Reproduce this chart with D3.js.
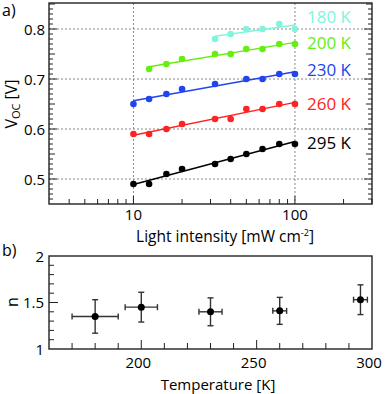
<!DOCTYPE html>
<html lang="en">
<head>
<meta charset="UTF-8"/>
<title>Voc vs light intensity</title>
<script src="https://d3js.org/d3.v7.min.js"></script>
<style>
  body { margin: 0; background: #fff; }
  text { font-family: "Open Sans", sans-serif; }
</style>
</head>
<body>
<script>
    // light intensity points (mW cm-2)
    var intensity = [10, 12.5, 16, 20, 32, 40, 50, 63, 80, 100];

    // Voc per temperature, null = no point
    var temps = ["180 K", "200 K", "230 K", "260 K", "295 K"];
    var colors = ["#80f5dc", "#66ee11", "#2244ee", "#ff2222", "#000000"];
    var voc180 = [null, null, null, null, 0.78, 0.79, 0.80, 0.80, 0.81, 0.80];
    var voc200 = [null, 0.72, 0.73, 0.74, 0.75, 0.75, 0.76, 0.76, 0.77, 0.77];
    var voc230 = [0.65, 0.66, 0.67, 0.68, 0.69, null, 0.70, 0.70, 0.71, 0.71];
    var voc260 = [0.59, 0.59, 0.60, 0.61, 0.62, 0.62, 0.64, 0.64, 0.65, 0.65];
    var voc295 = [0.49, 0.49, 0.51, 0.52, 0.53, 0.54, 0.55, 0.56, 0.57, 0.57];
    var vocAll = [voc180, voc200, voc230, voc260, voc295];

    // ideality factor vs temperature
    var tempK = [180, 200, 230, 260, 295];
    var tempErr = [10, 7, 5, 3, 3];
    var nVal = [1.35, 1.45, 1.40, 1.41, 1.53];
    var nErr = [0.18, 0.16, 0.15, 0.145, 0.16];

    var w = 385, h = 394;
    var left = 49, right = 372;

    var svg = d3.select("body").append("svg")
        .attr("width", w).attr("height", h);

    // ---------- panel a ----------
    var aTop = 3, aBot = 204;
    var xA = d3.scaleLog().domain([3, 300]).range([left, right]);
    var yA = d3.scaleLinear().domain([0.45, 0.852]).range([aBot, aTop]);

    // grid
    [10, 100].forEach(function(v) {
        svg.append("line").attr("x1", xA(v)).attr("x2", xA(v))
            .attr("y1", aTop).attr("y2", aBot)
            .attr("stroke", "#888").attr("stroke-width", 1).attr("stroke-dasharray", "2,2");
    });
    [0.5, 0.6, 0.7, 0.8].forEach(function(v) {
        svg.append("line").attr("x1", left).attr("x2", right)
            .attr("y1", yA(v)).attr("y2", yA(v))
            .attr("stroke", "#888").attr("stroke-width", 1).attr("stroke-dasharray", "2,2");
    });

    // y ticks, every 0.01 on both sides
    var yTicks = d3.range(46, 86).map(function(d) { return d / 100; });
    yTicks.forEach(function(v) {
        var k = Math.round(v * 100);
        var len = (k % 10 === 0) ? 8 : (k % 5 === 0 ? 6 : 4);
        svg.append("line").attr("x1", left).attr("x2", left + len)
            .attr("y1", yA(v)).attr("y2", yA(v)).attr("stroke", "#222");
        svg.append("line").attr("x1", right).attr("x2", right - len)
            .attr("y1", yA(v)).attr("y2", yA(v)).attr("stroke", "#222");
    });
    [0.5, 0.6, 0.7, 0.8].forEach(function(v) {
        svg.append("text").attr("x", left - 4).attr("y", yA(v) + 5.5)
            .attr("text-anchor", "end").attr("font-size", 15).text(v.toFixed(1));
    });

    // x ticks (log)
    var xTicks = [4, 5, 6, 7, 8, 9, 10, 20, 30, 40, 50, 60, 70, 80, 90, 100, 200, 300];
    xTicks.forEach(function(v) {
        var len = (v === 10 || v === 100) ? 8 : 5;
        svg.append("line").attr("x1", xA(v)).attr("x2", xA(v))
            .attr("y1", aBot).attr("y2", aBot - len).attr("stroke", "#222");
    });
    [10, 100].forEach(function(v) {
        svg.append("text").attr("x", xA(v)).attr("y", 220)
            .attr("text-anchor", "middle").attr("font-size", 15).text(v);
    });

    svg.append("rect").attr("x", left).attr("y", aTop)
        .attr("width", right - left).attr("height", aBot - aTop)
        .attr("fill", "none").attr("stroke", "#222").attr("stroke-width", 1.4);

    // fits + points
    vocAll.forEach(function(vals, s) {
        var pts = [];
        vals.forEach(function(v, i) { if (v !== null) pts.push([intensity[i], v]); });
        // least squares on log x
        var lx = pts.map(function(p) { return Math.log10(p[0]); });
        var mx = d3.mean(lx), my = d3.mean(pts, function(p) { return p[1]; });
        var sxy = d3.sum(pts, function(p, i) { return (lx[i] - mx) * (p[1] - my); });
        var sxx = d3.sum(lx, function(d) { return (d - mx) * (d - mx); });
        var b = sxy / sxx, a0 = my - b * mx;
        var x0 = pts[0][0], x1 = pts[pts.length - 1][0];
        svg.append("line")
            .attr("x1", xA(x0)).attr("y1", yA(a0 + b * Math.log10(x0)))
            .attr("x2", xA(x1)).attr("y2", yA(a0 + b * Math.log10(x1)))
            .attr("stroke", colors[s]).attr("stroke-width", 1.5);
        svg.append("g").selectAll("circle").data(pts).enter().append("circle")
            .attr("cx", function(d) { return xA(d[0]); })
            .attr("cy", function(d) { return yA(d[1]); })
            .attr("r", 3.3).attr("fill", colors[s]);
    });

    var labelY = [17, 43, 70, 104, 143];
    temps.forEach(function(t, i) {
        svg.append("text").attr("x", 307).attr("y", labelY[i] + 6)
            .attr("font-size", 17).attr("fill", colors[i]).text(t);
    });

    svg.append("text").attr("x", 2).attr("y", 16).attr("font-size", 16).text("a)");

    var yl = svg.append("text").attr("transform", "translate(17,104) rotate(-90)")
        .attr("text-anchor", "middle").attr("font-size", 16);
    yl.append("tspan").text("V");
    yl.append("tspan").attr("font-size", 11).attr("dy", 3).text("OC");
    yl.append("tspan").attr("dy", -3).text(" [V]");

    var xl = svg.append("text").attr("x", 225).attr("y", 242)
        .attr("text-anchor", "middle").attr("font-size", 15.5);
    xl.append("tspan").text("Light intensity [mW cm");
    xl.append("tspan").attr("font-size", 9).attr("dy", -6).text("-2");
    xl.append("tspan").attr("dy", 6).text("]");

    // ---------- panel b ----------
    var bTop = 256, bBot = 349;
    var xB = d3.scaleLinear().domain([160, 300]).range([left, right]);
    var yB = d3.scaleLinear().domain([1, 2]).range([bBot, bTop]);

    d3.range(170, 300, 10).forEach(function(v) {
        var len = (v % 50 === 0) ? 9 : 6;
        svg.append("line").attr("x1", xB(v)).attr("x2", xB(v))
            .attr("y1", bBot).attr("y2", bBot - len).attr("stroke", "#222");
    });
    [1.1, 1.2, 1.3, 1.4, 1.5, 1.6, 1.7, 1.8, 1.9].forEach(function(v) {
        var len = Math.abs(v - 1.5) < 1e-6 ? 9 : 5;
        svg.append("line").attr("x1", left).attr("x2", left + len)
            .attr("y1", yB(v)).attr("y2", yB(v)).attr("stroke", "#222");
    });
    svg.append("rect").attr("x", left).attr("y", bTop)
        .attr("width", right - left).attr("height", bBot - bTop)
        .attr("fill", "none").attr("stroke", "#222").attr("stroke-width", 1.4);

    [200, 250, 300].forEach(function(v) {
        svg.append("text").attr("x", xB(v) - 3).attr("y", 368)
            .attr("text-anchor", "middle").attr("font-size", 15).text(v);
    });
    [[1, "1"], [1.5, "1.5"], [2, "2"]].forEach(function(d) {
        svg.append("text").attr("x", left - 5).attr("y", yB(d[0]) + 5.5)
            .attr("text-anchor", "end").attr("font-size", 15).text(d[1]);
    });

    var eb = svg.append("g").attr("stroke", "#333").attr("stroke-width", 1.4);
    tempK.forEach(function(t, i) {
        var cx = xB(t), cy = yB(nVal[i]);
        var xl0 = xB(t - tempErr[i]), xl1 = xB(t + tempErr[i]);
        var yl0 = yB(nVal[i] - nErr[i]), yl1 = yB(nVal[i] + nErr[i]);
        eb.append("line").attr("x1", xl0).attr("x2", xl1).attr("y1", cy).attr("y2", cy);
        eb.append("line").attr("x1", xl0).attr("x2", xl0).attr("y1", cy - 3).attr("y2", cy + 3);
        eb.append("line").attr("x1", xl1).attr("x2", xl1).attr("y1", cy - 3).attr("y2", cy + 3);
        eb.append("line").attr("x1", cx).attr("x2", cx).attr("y1", yl0).attr("y2", yl1);
        eb.append("line").attr("x1", cx - 3).attr("x2", cx + 3).attr("y1", yl0).attr("y2", yl0);
        eb.append("line").attr("x1", cx - 3).attr("x2", cx + 3).attr("y1", yl1).attr("y2", yl1);
    });
    svg.append("g").selectAll("circle").data(tempK).enter().append("circle")
        .attr("cx", function(d) { return xB(d); })
        .attr("cy", function(d, i) { return yB(nVal[i]); })
        .attr("r", 3.5).attr("fill", "#000");

    svg.append("text").attr("x", 2).attr("y", 256).attr("font-size", 16).text("b)");
    svg.append("text").attr("transform", "translate(18,302) rotate(-90)")
        .attr("text-anchor", "middle").attr("font-size", 16).text("n");
    svg.append("text").attr("x", 218).attr("y", 390)
        .attr("text-anchor", "middle").attr("font-size", 15).text("Temperature [K]");
</script>
</body>
</html>
